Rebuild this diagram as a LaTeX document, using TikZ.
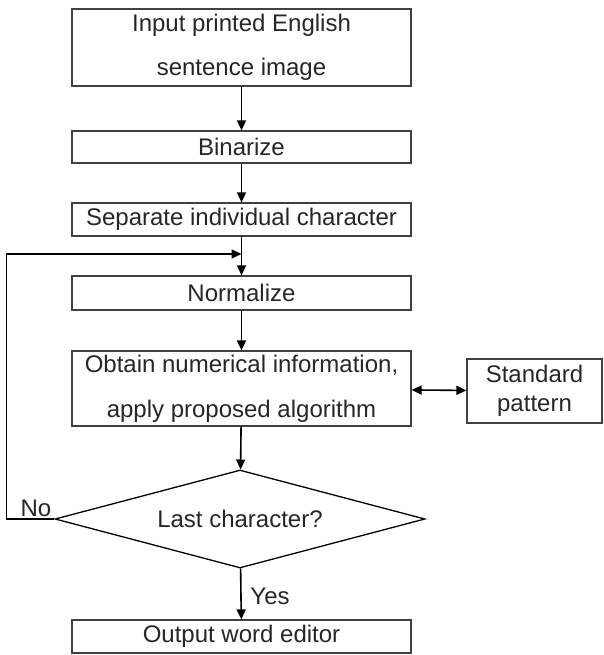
\documentclass[tikz,border=0pt]{standalone}
\usepackage{fontspec}
\setmainfont{Liberation Sans}
\usetikzlibrary{shapes.geometric,arrows.meta}

\begin{document}
\begin{tikzpicture}[
		x=1pt, y=-1pt,
		box/.style={
			draw=black!75,
			line width=1.2pt,
			align=center,
			minimum width=339pt,
			inner sep=0pt,
			font=\fontsize{24}{28}\selectfont,
			text=black!85
		},
		decision/.style={
			draw=black,
			line width=1.3pt,
			diamond,
			aspect=3.8,
			inner sep=0pt,
			minimum width=370pt,
			minimum height=98pt,
			font=\fontsize{24}{28}\selectfont,
			text=black!85
		},
		label/.style={
			font=\fontsize{24}{28}\selectfont,
			text=black!85
		},
		line/.style={draw, line width=1.6pt, -{Triangle[length=10pt,width=9pt]}}
		]
		\useasboundingbox (0,0) rectangle (603,655);
		
		% Main flow
		\node[box, minimum height=77pt, font=\fontsize{24}{44}\selectfont] (input) at (241.5,47.5)
		{Input printed English\\sentence image};
		\node[box, minimum height=32pt] (binarize) at (241.5,147) {Binarize};
		\node[box, minimum height=33pt] (separate) at (241.5,219.5) {Separate individual character};
		\node[box, minimum height=34pt] (normalize) at (241.5,293) {Normalize};
		\node[box, minimum height=75pt, font=\fontsize{24}{45}\selectfont] (obtain) at (241.5,388.5)
		{Obtain numerical information,\\apply proposed algorithm};
		
		% Reference patterns
		\node[box, minimum width=135pt, minimum height=64pt, font=\fontsize{24}{29}\selectfont] (standard) at (534.5,391)
		{Standard\\pattern};
		
		% Decision and output
		\node[decision] (last) at (240,519) {Last character?};
		\node[box, minimum height=33pt] (output) at (241.5,636.5) {Output word editor};
		
		\node[label] (no) at (36,508) {No};
		\node[label] (yes) at (270,596) {Yes};
		
		\coordinate (join) at (241.5,254);
		
		% Connectors
		\draw[line] (input) -- (binarize);
		\draw[line] (binarize) -- (separate);
		\draw[line] (separate) -- (normalize);
		\draw[line] (normalize) -- (obtain);
		\draw[line] (obtain) -- (last);
		\draw[line] (last) -- (output);
		\draw[line, {Triangle[length=10pt,width=9pt]}-{Triangle[length=10pt,width=9pt]}] (obtain) -- (standard);
		\draw[line] (last.west) -- ++(-48,0) |- (join);
		
	\end{tikzpicture}
\end{document}
